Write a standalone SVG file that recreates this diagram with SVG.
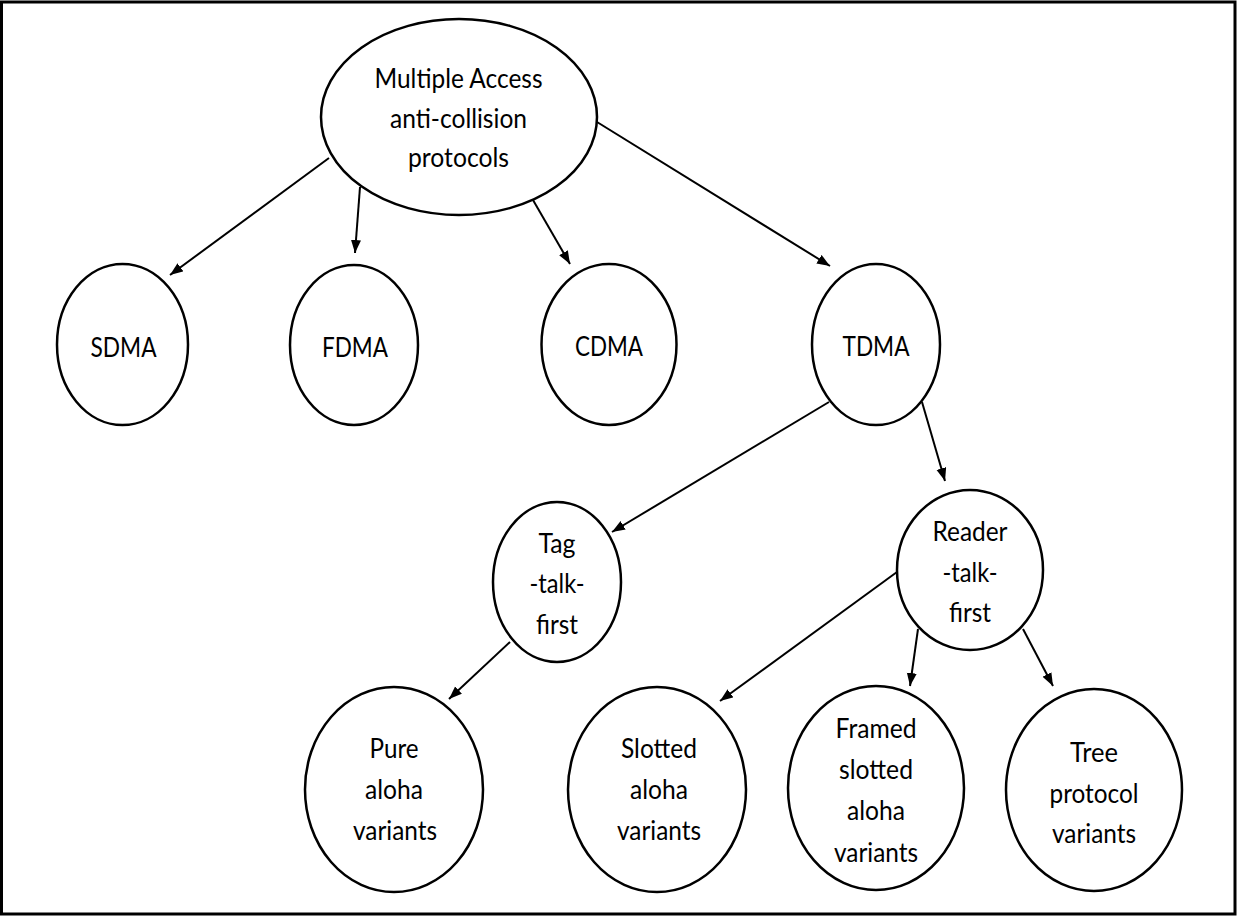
<svg xmlns="http://www.w3.org/2000/svg" width="1237" height="916" viewBox="0 0 1237 916">
<style>
.n{fill:#fff;stroke:#000;stroke-width:2.5}
.t{font-family:Lato,"Open Sans","Liberation Sans",sans-serif;font-size:27px;fill:#000;text-anchor:middle}
.c{stroke:#000;stroke-width:2;fill:none;marker-end:url(#ah)}
</style>
<defs>
<marker id="ah" markerUnits="userSpaceOnUse" markerWidth="14" markerHeight="11" refX="13" refY="5" orient="auto" viewBox="0 0 14 11">
<path d="M0,0 L13,5 L0,10 z" fill="#000"/>
</marker>
</defs>
<rect x="0" y="0" width="1237" height="916" fill="#fff"/>
<rect x="1.5" y="2" width="1233.5" height="912" fill="none" stroke="#000" stroke-width="3"/>
<g id="connectors">
<line class="c" x1="329" y1="158" x2="170" y2="275"/>
<line class="c" x1="360" y1="187" x2="355" y2="253"/>
<line class="c" x1="533" y1="200" x2="570" y2="264"/>
<line class="c" x1="597" y1="122" x2="830" y2="266"/>
<line class="c" x1="829" y1="402" x2="612" y2="532"/>
<line class="c" x1="922" y1="402" x2="945" y2="481"/>
<line class="c" x1="510" y1="642" x2="449" y2="699"/>
<line class="c" x1="897" y1="572" x2="720" y2="701"/>
<line class="c" x1="918" y1="629" x2="910" y2="686"/>
<line class="c" x1="1023" y1="629" x2="1053" y2="686"/>
</g>
<g id="root">
<ellipse class="n" cx="459" cy="117" rx="138" ry="98"/>
<text class="t" x="458.5" y="88" textLength="168" lengthAdjust="spacingAndGlyphs">Multiple Access</text>
<text class="t" x="458.5" y="128" textLength="137" lengthAdjust="spacingAndGlyphs">anti-collision</text>
<text class="t" x="458.5" y="167" textLength="101" lengthAdjust="spacingAndGlyphs">protocols</text>
</g>
<g id="sdma">
<ellipse class="n" cx="122.5" cy="344.5" rx="65.5" ry="80.5"/>
<text class="t" x="123.5" y="357" textLength="66" lengthAdjust="spacingAndGlyphs">SDMA</text>
</g>
<g id="fdma">
<ellipse class="n" cx="354" cy="345" rx="64" ry="80"/>
<text class="t" x="355" y="357" textLength="66" lengthAdjust="spacingAndGlyphs">FDMA</text>
</g>
<g id="cdma">
<ellipse class="n" cx="609" cy="344.5" rx="67.5" ry="80.5"/>
<text class="t" x="609" y="356" textLength="68" lengthAdjust="spacingAndGlyphs">CDMA</text>
</g>
<g id="tdma">
<ellipse class="n" cx="876" cy="344.5" rx="64" ry="80.5"/>
<text class="t" x="876" y="356" textLength="67" lengthAdjust="spacingAndGlyphs">TDMA</text>
</g>
<g id="tag">
<ellipse class="n" cx="557" cy="582" rx="64" ry="80"/>
<text class="t" x="557" y="553" textLength="37" lengthAdjust="spacingAndGlyphs">Tag</text>
<text class="t" x="557" y="593" textLength="55" lengthAdjust="spacingAndGlyphs">-talk-</text>
<text class="t" x="557" y="634" textLength="42" lengthAdjust="spacingAndGlyphs">first</text>
</g>
<g id="reader">
<ellipse class="n" cx="970" cy="570" rx="73" ry="80"/>
<text class="t" x="970" y="541" textLength="75" lengthAdjust="spacingAndGlyphs">Reader</text>
<text class="t" x="970" y="582" textLength="55" lengthAdjust="spacingAndGlyphs">-talk-</text>
<text class="t" x="970" y="622" textLength="42" lengthAdjust="spacingAndGlyphs">first</text>
</g>
<g id="pure">
<ellipse class="n" cx="394" cy="789.5" rx="89" ry="102.5"/>
<text class="t" x="394" y="758" textLength="49" lengthAdjust="spacingAndGlyphs">Pure</text>
<text class="t" x="394" y="799" textLength="58" lengthAdjust="spacingAndGlyphs">aloha</text>
<text class="t" x="395" y="840" textLength="84" lengthAdjust="spacingAndGlyphs">variants</text>
</g>
<g id="slotted">
<ellipse class="n" cx="657" cy="789.5" rx="89" ry="102.5"/>
<text class="t" x="659" y="758" textLength="76" lengthAdjust="spacingAndGlyphs">Slotted</text>
<text class="t" x="659" y="799" textLength="58" lengthAdjust="spacingAndGlyphs">aloha</text>
<text class="t" x="659" y="840" textLength="84" lengthAdjust="spacingAndGlyphs">variants</text>
</g>
<g id="framed">
<ellipse class="n" cx="876" cy="788" rx="88" ry="102"/>
<text class="t" x="876" y="738" textLength="81" lengthAdjust="spacingAndGlyphs">Framed</text>
<text class="t" x="876" y="779" textLength="74" lengthAdjust="spacingAndGlyphs">slotted</text>
<text class="t" x="876" y="820" textLength="58" lengthAdjust="spacingAndGlyphs">aloha</text>
<text class="t" x="876" y="862" textLength="84" lengthAdjust="spacingAndGlyphs">variants</text>
</g>
<g id="tree">
<ellipse class="n" cx="1094" cy="790" rx="88" ry="101"/>
<text class="t" x="1094" y="762" textLength="48" lengthAdjust="spacingAndGlyphs">Tree</text>
<text class="t" x="1094" y="803" textLength="89" lengthAdjust="spacingAndGlyphs">protocol</text>
<text class="t" x="1094" y="843" textLength="84" lengthAdjust="spacingAndGlyphs">variants</text>
</g>
</svg>
